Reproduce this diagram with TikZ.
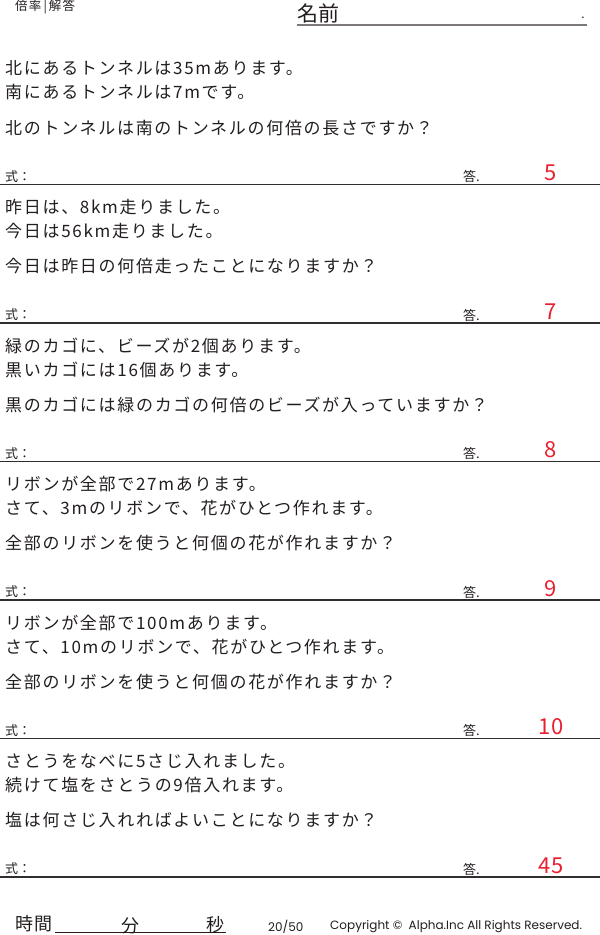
\documentclass[tikz,border=0pt]{standalone}
\usepackage{fontspec}
\newfontfamily\jp[LetterSpace=10]{Noto Sans CJK JP}
\newfontfamily\jpn{Noto Sans CJK JP}
\newfontfamily\pop{Poppins}
\definecolor{textc}{RGB}{35,30,30}
\definecolor{ansred}{RGB}{232,32,48}
\definecolor{linec}{RGB}{50,45,45}
\definecolor{namec}{RGB}{125,120,120}
\tikzset{
  qtext/.style={anchor=west, inner sep=0pt, text=textc, font=\jp\fontsize{17}{17}\selectfont},
  smalltext/.style={anchor=west, inner sep=0pt, text=textc, font=\jpn\fontsize{13}{13}\selectfont},
  anstext/.style={anchor=center, inner sep=0pt, text=ansred, font=\jpn\fontsize{22}{22}\selectfont},
  sepline/.style={draw=linec, line width=1.6pt},
  foottext/.style={anchor=west, inner sep=0pt, text=textc, font=\pop\fontsize{12}{12}\selectfont},
  timetext/.style={inner sep=0pt, text=textc, font=\jp\fontsize{18}{18}\selectfont}
}
\newcommand\qblock[6]{%
  \node[qtext] (la#6) at (5,{68.5+#1}) {#2};
  \node[qtext] (lb#6) at (5,{92.5+#1}) {#3};
  \node[qtext] (lc#6) at (5,{128+#1}) {#4};
  \node[smalltext] (shiki#6) at (5,{176.5+#1}) {式：};
  \node[smalltext] (kotae#6) at (463,{176.5+#1}) {答.};
  \node[anstext] (ans#6) at (551,{173+#1}) {#5};
  \draw[sepline] (0,{184.5+#1}) -- (600,{184.5+#1});
}
\begin{document}
\begin{tikzpicture}[x=1pt,y=-1pt]
\useasboundingbox (0,0) rectangle (600,935);
\fill[white] (0,0) rectangle (600,935);
% header
\node[anchor=west, inner sep=0pt, text=textc, font=\jp\fontsize{12.5}{12.5}\selectfont] (title) at (15,6.5) {倍率\,|\,解答};
\node[anchor=west, inner sep=0pt, text=textc, font=\jpn\fontsize{21}{21}\selectfont] (namae) at (297,13) {名前};
\node[anchor=center, inner sep=0pt, text=textc, font=\jpn\fontsize{12}{12}\selectfont] (dot) at (583,18) {.};
\draw[draw=namec, line width=2pt] (297,24.5) -- (587,24.5);
% problems
\qblock{0}{北にあるトンネルは35mあります。}{南にあるトンネルは7mです。}{北のトンネルは南のトンネルの何倍の長さですか？}{5}{1}
\qblock{138.5}{昨日は、8km走りました。}{今日は56km走りました。}{今日は昨日の何倍走ったことになりますか？}{7}{2}
\qblock{277}{緑のカゴに、ビーズが2個あります。}{黒いカゴには16個あります。}{黒のカゴには緑のカゴの何倍のビーズが入っていますか？}{8}{3}
\qblock{415.5}{リボンが全部で27mあります。}{さて、3mのリボンで、花がひとつ作れます。}{全部のリボンを使うと何個の花が作れますか？}{9}{4}
\qblock{554}{リボンが全部で100mあります。}{さて、10mのリボンで、花がひとつ作れます。}{全部のリボンを使うと何個の花が作れますか？}{10}{5}
\qblock{692.5}{さとうをなべに5さじ入れました。}{続けて塩をさとうの9倍入れます。}{塩は何さじ入れればよいことになりますか？}{45}{6}
% footer
\node[timetext, anchor=west] (jikan) at (15,924) {時間};
\node[timetext, anchor=center] (fun) at (130,926) {分};
\node[timetext, anchor=center] (byo) at (215,924.5) {秒};
\draw[draw=textc, line width=0.8pt] (55,932) -- (226,932);
\node[foottext] (page) at (268,927) {20/50};
\node[foottext] (copy) at (330,927) {Copyright ©\ \ Alpha.Inc All Rights Reserved.};
\end{tikzpicture}
\end{document}
